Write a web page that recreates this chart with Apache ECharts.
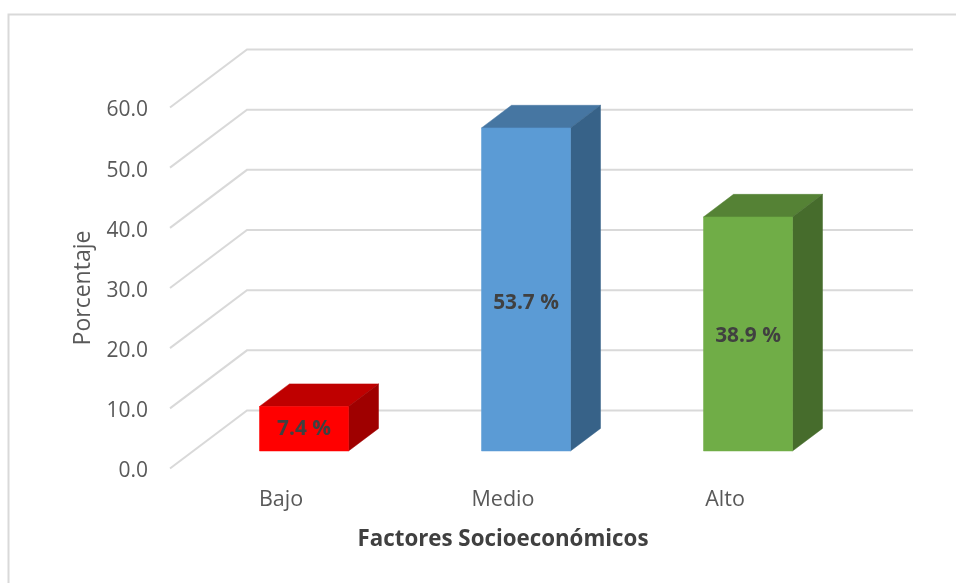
<!DOCTYPE html>
<html><head><meta charset="utf-8">
<style>html,body{margin:0;padding:0;background:#fff}#c{width:956px;height:583px}</style>
<script src="https://cdn.jsdelivr.net/npm/echarts@6/dist/echarts.min.js"></script>
</head><body><div id="c"></div>
<script>
const categories = ['Bajo', 'Medio', 'Alto'];
const values = [7.4, 53.7, 38.9];
const valueLabels = ['7.4 %', '53.7 %', '38.9 %'];
const yTicks = [0, 10, 20, 30, 40, 50, 60];
const frontColors = ['#FF0000', '#5B9BD5', '#70AD47'];
const topColors = ['#BF0000', '#4676A2', '#558235'];
const sideColors = ['#9F0000', '#376288', '#466C2C'];
const FONT = '"Open Sans"';
const DX = 77, DY = -58;

const chart = echarts.init(document.getElementById('c'), null, {renderer: 'canvas'});

function wallItem(params, api) {
  const y = api.coord([0, api.value(0)])[1];
  const left = params.coordSys.x;
  const rightEdge = left + params.coordSys.width;
  return {
    type: 'polyline',
    shape: {points: [[left, y], [left + DX, y + DY], [rightEdge + DX, y + DY]]},
    style: {stroke: '#D9D9D9', fill: 'none', lineWidth: 2}
  };
}

function barItem(params, api) {
  const i = params.dataIndex;
  const labelShift = [0, 13.5, 2][i];
  const bw = 89, ox = 23, oy = -17.5, sx = 30, sy = -22.6;
  const top = api.coord([i, api.value(1)]);
  const base = api.coord([i, 0]);
  const cx = base[0] + ox;
  const l = cx - bw / 2, r = cx + bw / 2, t = top[1] + oy, b = base[1] + oy;
  const sh = (pts, c) => ({
    type: 'polygon', shape: {points: pts},
    style: {fill: c, stroke: c, lineWidth: 0.5}
  });
  return {
    type: 'group',
    children: [
      sh([[l, t], [l + sx, t + sy], [r + sx, t + sy], [r, t]], topColors[i]),
      sh([[r, t], [r + sx, t + sy], [r + sx, b + sy], [r, b]], sideColors[i]),
      sh([[l, t], [r, t], [r, b], [l, b]], frontColors[i]),
      {
        type: 'text',
        style: {
          x: cx, y: (t + b) / 2 + labelShift, text: valueLabels[i], align: 'center', verticalAlign: 'middle',
          font: 'bold 20.8px ' + FONT, fill: '#404040'
        }
      }
    ]
  };
}

chart.setOption({
  animation: false,
  backgroundColor: '#fff',
  textStyle: {fontFamily: FONT},
  grid: {left: 170, right: 120, top: 107.5, bottom: 114.5, containLabel: false},
  xAxis: {
    type: 'category', data: categories,
    axisLine: {show: false}, axisTick: {show: false}, splitLine: {show: false},
    axisLabel: {color: '#595959', fontSize: 21.5, fontFamily: FONT, margin: 20},
    name: 'Factores Socioeconómicos', nameLocation: 'middle', nameGap: 60.5,
    nameTextStyle: {color: '#404040', fontSize: 22.3, fontWeight: 'bold', fontFamily: FONT}
  },
  yAxis: {
    type: 'value', min: 0, max: 60, interval: 10,
    axisLine: {show: false}, axisTick: {show: false}, splitLine: {show: false},
    axisLabel: {color: '#595959', fontSize: 21, fontFamily: FONT, margin: 22, verticalAlign: 'top', lineHeight: 6,
      formatter: v => v.toFixed(1)},
    name: 'Porcentaje', nameLocation: 'middle', nameGap: 75, nameRotate: 90,
    nameTextStyle: {color: '#595959', fontSize: 23, fontFamily: FONT}
  },
  graphic: [{
    type: 'polyline', silent: true,
    shape: {points: [[8.5, 583], [8.5, 14.5], [956, 14.5]]},
    style: {stroke: '#D9D9D9', fill: 'none', lineWidth: 2}
  }],
  series: [
    {type: 'custom', renderItem: wallItem, data: yTicks.map(v => [v]), encode: {y: 0}, z: 1, silent: true, clip: false},
    {type: 'custom', renderItem: barItem, data: values.map((v, i) => [i, v]), encode: {x: 0, y: 1}, z: 2, silent: true, clip: false}
  ]
});
</script></body></html>
